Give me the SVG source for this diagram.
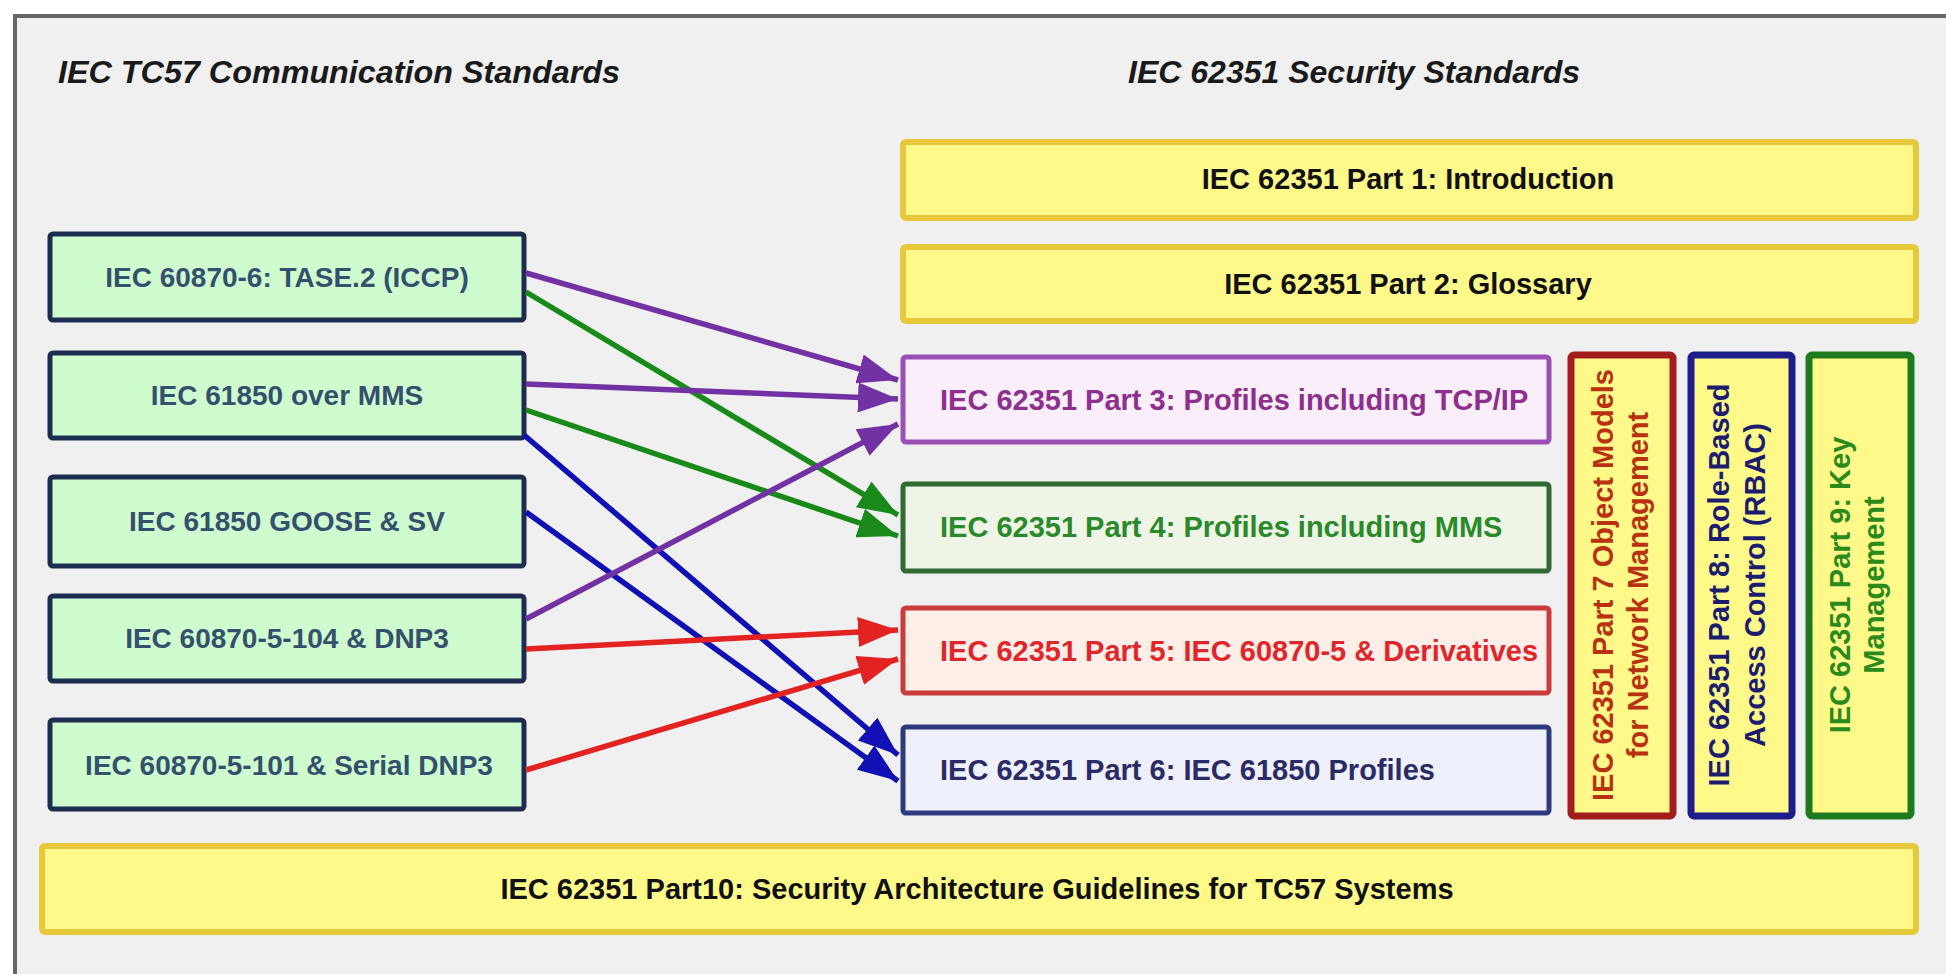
<svg xmlns="http://www.w3.org/2000/svg" width="1946" height="974" viewBox="0 0 1946 974">
<defs>
<style>
text{font-family:"Liberation Sans",Arial,sans-serif;font-weight:bold;}
.title{font-size:31px;font-style:italic;fill:#1a1a1a;}
.lbl{font-size:28px;}
.lbl29{font-size:29px;}
.src rect{fill:#cffccf;stroke:#1c2d4f;stroke-width:5;}
.src text{fill:#34506c;text-anchor:middle;dominant-baseline:central;}
.yel rect{fill:#fff98a;stroke:#e6c83a;stroke-width:6;}
.yel text{fill:#111;text-anchor:middle;dominant-baseline:central;}
.prof text{text-anchor:start;dominant-baseline:central;}
.vert text{text-anchor:middle;dominant-baseline:central;}
.conn line{stroke-width:5.5;fill:none;}
</style>
<marker id="ap" markerUnits="userSpaceOnUse" markerWidth="40" markerHeight="30" refX="40" refY="15" orient="auto"><path d="M0,0 L40,15 L0,30 z" fill="#7332a3"/></marker>
<marker id="ag" markerUnits="userSpaceOnUse" markerWidth="40" markerHeight="30" refX="40" refY="15" orient="auto"><path d="M0,0 L40,15 L0,30 z" fill="#198a19"/></marker>
<marker id="ab" markerUnits="userSpaceOnUse" markerWidth="40" markerHeight="30" refX="40" refY="15" orient="auto"><path d="M0,0 L40,15 L0,30 z" fill="#1010b4"/></marker>
<marker id="ar" markerUnits="userSpaceOnUse" markerWidth="40" markerHeight="30" refX="40" refY="15" orient="auto"><path d="M0,0 L40,15 L0,30 z" fill="#e32222"/></marker>
</defs>
<rect x="0" y="0" width="1946" height="974" fill="#ffffff"/>
<rect x="15" y="16" width="1960" height="990" fill="#f0f0f0" stroke="#666666" stroke-width="4"/>

<text id="title-left" class="title" x="58" y="83" textLength="562" lengthAdjust="spacingAndGlyphs">IEC TC57 Communication Standards</text>
<text id="title-right" class="title" x="1128" y="83" textLength="452" lengthAdjust="spacingAndGlyphs">IEC 62351 Security Standards</text>

<g id="src-tase2" class="src"><rect x="50" y="234" width="474" height="86" rx="3"/><text class="lbl" x="287" y="277">IEC 60870-6: TASE.2 (ICCP)</text></g>
<g id="src-61850mms" class="src"><rect x="50" y="353" width="474" height="85" rx="3"/><text class="lbl" x="287" y="395">IEC 61850 over MMS</text></g>
<g id="src-goose" class="src"><rect x="50" y="477" width="474" height="89" rx="3"/><text class="lbl" x="287" y="521">IEC 61850 GOOSE &amp; SV</text></g>
<g id="src-104" class="src"><rect x="50" y="596" width="474" height="85" rx="3"/><text class="lbl" x="287" y="638">IEC 60870-5-104 &amp; DNP3</text></g>
<g id="src-101" class="src"><rect x="50" y="720" width="474" height="89" rx="3"/><text class="lbl" x="289" y="765">IEC 60870-5-101 &amp; Serial DNP3</text></g>

<g id="part1" class="yel"><rect x="903" y="142" width="1013" height="76" rx="3"/><text class="lbl29" x="1408" y="179">IEC 62351 Part 1: Introduction</text></g>
<g id="part2" class="yel"><rect x="903" y="247" width="1013" height="74" rx="3"/><text class="lbl29" x="1408" y="284">IEC 62351 Part 2: Glossary</text></g>

<g id="part3" class="prof"><rect x="903" y="357" width="646" height="85" rx="3" fill="#f9eefa" stroke="#9a4fb5" stroke-width="5"/><text class="lbl29" x="940" y="400" fill="#8e2f8e">IEC 62351 Part 3: Profiles including TCP/IP</text></g>
<g id="part4" class="prof"><rect x="903" y="484" width="646" height="87" rx="3" fill="#eef4e6" stroke="#2f6b32" stroke-width="5"/><text class="lbl29" x="940" y="527" fill="#2a8a2a">IEC 62351 Part 4: Profiles including MMS</text></g>
<g id="part5" class="prof"><rect x="903" y="608" width="646" height="85" rx="3" fill="#fdeee8" stroke="#cc3b3b" stroke-width="5"/><text class="lbl29" x="940" y="651" fill="#e0262b">IEC 62351 Part 5: IEC 60870-5 &amp; Derivatives</text></g>
<g id="part6" class="prof"><rect x="903" y="727" width="646" height="86" rx="3" fill="#eef0fb" stroke="#2e3a80" stroke-width="5"/><text class="lbl29" x="940" y="770" fill="#2b2b66">IEC 62351 Part 6: IEC 61850 Profiles</text></g>

<g id="part7" class="vert"><rect x="1571" y="355" width="102" height="461" rx="3" fill="#fff98a" stroke="#a31d1d" stroke-width="7"/>
<text class="lbl29" fill="#b83212" transform="translate(1620,585) rotate(-90)"><tspan x="0" y="-17">IEC 62351 Part 7 Object Models</tspan><tspan x="0" y="18">for Network Management</tspan></text></g>
<g id="part8" class="vert"><rect x="1691" y="355" width="101" height="461" rx="3" fill="#fff98a" stroke="#1d1d8c" stroke-width="7"/>
<text class="lbl29" fill="#1d1d70" transform="translate(1737,585) rotate(-90)"><tspan x="0" y="-18">IEC 62351 Part 8: Role-Based</tspan><tspan x="0" y="18">Access Control (RBAC)</tspan></text></g>
<g id="part9" class="vert"><rect x="1809" y="355" width="102" height="461" rx="3" fill="#fff98a" stroke="#1e7a1e" stroke-width="7"/>
<text class="lbl29" fill="#2a8a1a" transform="translate(1857,585) rotate(-90)"><tspan x="0" y="-17">IEC 62351 Part 9: Key</tspan><tspan x="0" y="17">Management</tspan></text></g>

<g id="part10" class="yel"><rect x="42" y="846" width="1874" height="86" rx="3"/><text class="lbl29" x="977" y="889">IEC 62351 Part10: Security Architecture Guidelines for TC57 Systems</text></g>

<g id="connectors" class="conn">
<line x1="526" y1="273" x2="898" y2="380" stroke="#7332a3" marker-end="url(#ap)"/>
<line x1="526" y1="292" x2="898" y2="515" stroke="#198a19" marker-end="url(#ag)"/>
<line x1="526" y1="384" x2="898" y2="399" stroke="#7332a3" marker-end="url(#ap)"/>
<line x1="526" y1="410" x2="898" y2="536" stroke="#198a19" marker-end="url(#ag)"/>
<line x1="524" y1="435" x2="898" y2="755" stroke="#1010b4" marker-end="url(#ab)"/>
<line x1="526" y1="512" x2="898" y2="781" stroke="#1010b4" marker-end="url(#ab)"/>
<line x1="526" y1="619" x2="898" y2="424" stroke="#7332a3" marker-end="url(#ap)"/>
<line x1="526" y1="649" x2="898" y2="630" stroke="#e32222" marker-end="url(#ar)"/>
<line x1="526" y1="770" x2="898" y2="659" stroke="#e32222" marker-end="url(#ar)"/>
</g>
</svg>
